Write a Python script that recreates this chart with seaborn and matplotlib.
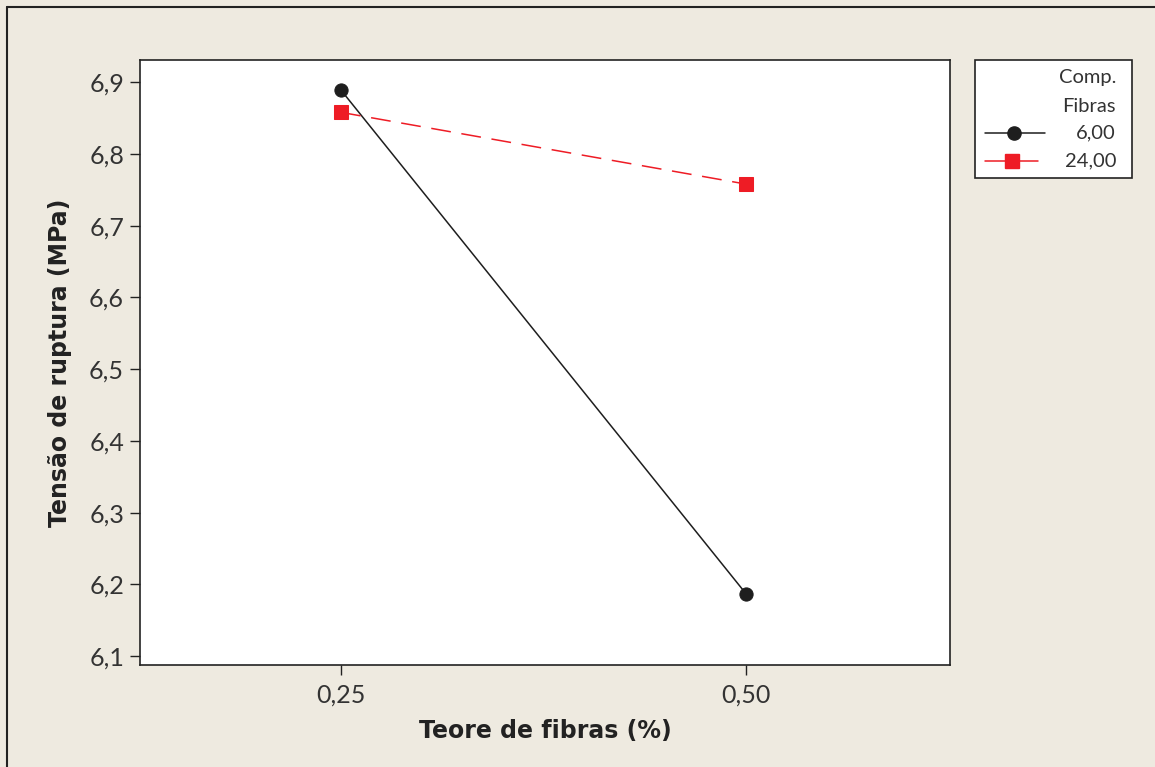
import matplotlib
matplotlib.use("Agg")
import matplotlib.pyplot as plt
import seaborn as sns
import pandas as pd
from matplotlib.lines import Line2D
from matplotlib.patches import Rectangle

teor = [0.25, 0.50]
comp_labels = ["6,00", "24,00"]
tensao_6 = [6.889, 6.187]
tensao_24 = [6.858, 6.758]
yticks = [6.1, 6.2, 6.3, 6.4, 6.5, 6.6, 6.7, 6.8, 6.9]
xticks = [0.25, 0.50]
xticklabels = ["0,25", "0,50"]

df = pd.DataFrame({
    "Teor": teor * 2,
    "Tensao": tensao_6 + tensao_24,
    "Comp": [comp_labels[0]] * 2 + [comp_labels[1]] * 2,
})

sns.set_theme(style="white")
plt.rcParams['font.family'] = ['DejaVu Sans']
light_font = ['Lato', 'DejaVu Sans']

bg = "#EEEAE0"
fig = plt.figure(figsize=(11.55, 7.67), dpi=100, facecolor=bg)
W, H = 1155, 767
ax = fig.add_axes([140 / W, 1 - 665 / H, 810 / W, 605 / H])
ax.set_facecolor("white")

palette = {"6,00": "#1e1e1e", "24,00": "#ee1c25"}
sns.lineplot(data=df, x="Teor", y="Tensao", hue="Comp", style="Comp",
             palette=palette, markers={"6,00": "o", "24,00": "s"},
             dashes={"6,00": "", "24,00": (13, 7)}, markersize=9.5,
             linewidth=1.1, ax=ax, legend=False)
for ln in ax.lines:
    ln.set_markeredgecolor(ln.get_color())

ax.set_xlim(0.1259, 0.626)
ax.set_ylim(6.0875, 6.931)
ax.set_xticks(xticks)
ax.set_xticklabels(xticklabels, fontfamily=light_font)
ax.set_yticks(yticks)
ax.set_yticklabels([f"{v:.1f}".replace(".", ",") for v in yticks], fontfamily=light_font)
ax.tick_params(axis="both", which="both", direction="out", length=7.5, width=1,
               color="#222222", labelsize=18, labelcolor="#333333", left=True, bottom=True)
ax.tick_params(axis="x", pad=6)
ax.tick_params(axis="y", pad=4)
for s in ax.spines.values():
    s.set_color("#222222")
    s.set_linewidth(1.2)

ax.set_xlabel("Teore de fibras (%)", fontsize=17, fontweight="bold", color="#222222", labelpad=9)
ax.set_ylabel("Tensão de ruptura (MPa)", fontsize=17, fontweight="bold", color="#222222", labelpad=12)

# legend box (manual)
fig.add_artist(Rectangle((975 / W, 1 - 178 / H), 157 / W, 118 / H, transform=fig.transFigure,
                         facecolor="white", edgecolor="#222222", linewidth=1.2))
tx = 1116 / W
for txt, yy in [("Comp.", 77), ("Fibras", 106), (comp_labels[0], 133), (comp_labels[1], 161)]:
    fig.text(tx, 1 - yy / H, txt, ha="right", va="center", fontsize=14.5,
             color="#333333", family=light_font)
fig.add_artist(Line2D([985 / W, 1045 / W], [1 - 133 / H] * 2, color=palette["6,00"], linewidth=1.1))
fig.add_artist(Line2D([1014 / W], [1 - 133 / H], color=palette["6,00"], marker="o", markersize=9.5, linestyle=""))
fig.add_artist(Line2D([985 / W, 1038 / W], [1 - 161 / H] * 2, color=palette["24,00"], linewidth=1.1))
fig.add_artist(Line2D([1012 / W], [1 - 161 / H], color=palette["24,00"], marker="s", markersize=9.5, linestyle=""))

# figure border (left and top)
fig.add_artist(Line2D([7 / W, 7 / W], [0, 1 - 7 / H], color="#222222", linewidth=1.5))
fig.add_artist(Line2D([7 / W, 1], [1 - 7 / H, 1 - 7 / H], color="#222222", linewidth=1.5))

fig.savefig("out.png", dpi=100, facecolor=bg)
